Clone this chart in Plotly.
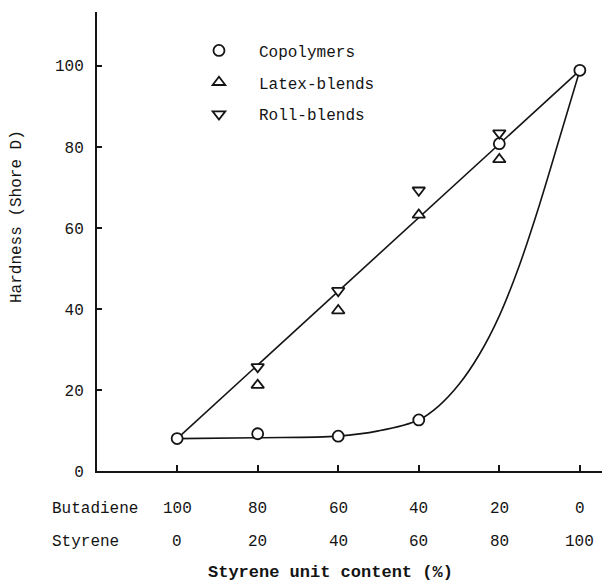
import plotly.graph_objects as go

# Data
styrene = [0, 20, 40, 60, 80, 100]
butadiene = [100, 80, 60, 40, 20, 0]

copolymers_x = [0, 20, 40, 60, 80, 100]
copolymers_y = [8, 9.2, 8.6, 12.6, 80.8, 98.9]

latex_x = [20, 40, 60, 80]
latex_y = [21.2, 39.6, 63.2, 76.9]

roll_x = [20, 40, 60, 80]
roll_y = [25.7, 44.5, 69.3, 83.4]

# straight blend line (copolymer end points)
line_x = [0, 100]
line_y = [8, 98.9]

# copolymer curve as drawn
curve_x = [0, 20, 40, 50, 60, 65, 70, 75, 80, 85, 90, 95, 100]
curve_y = [8, 8.2, 8.6, 9.9, 12.6, 16.1, 21.4, 28.7, 38.3, 50.8, 65.8, 82.3, 98.9]

y_ticks = [0, 20, 40, 60, 80, 100]

INK = "#141414"
FONT = "Liberation Mono, Courier New, monospace"

fig = go.Figure()

fig.add_trace(go.Scatter(x=line_x, y=line_y, mode="lines",
                         line=dict(color=INK, width=1.6), showlegend=False, hoverinfo="skip"))
fig.add_trace(go.Scatter(x=curve_x, y=curve_y, mode="lines", line_shape="spline",
                         line=dict(color=INK, width=1.6, smoothing=1.0), showlegend=False,
                         hoverinfo="skip"))

mk = dict(color="white", size=11, line=dict(color=INK, width=1.8))
fig.add_trace(go.Scatter(x=copolymers_x, y=copolymers_y, mode="markers", name="Copolymers",
                         marker=dict(symbol="circle", **mk), legendgroup="a"))
fig.add_trace(go.Scatter(x=latex_x, y=latex_y, mode="markers", name="Latex-blends",
                         marker=dict(symbol="triangle-up", **mk), legendgroup="b"))
fig.add_trace(go.Scatter(x=roll_x, y=roll_y, mode="markers", name="Roll-blends",
                         marker=dict(symbol="triangle-down", **mk), legendgroup="c"))

tf = dict(size=16, family=FONT, color=INK)
ROW1 = -38 / 459
ROW2 = -71 / 459
# bottom rows of composition labels
fig.add_annotation(x=-47 / 505, xref="paper", xanchor="left", y=ROW1, yref="paper",
                   yanchor="middle", text="Butadiene", showarrow=False, font=tf)
fig.add_annotation(x=-47 / 505, xref="paper", xanchor="left", y=ROW2, yref="paper",
                   yanchor="middle", text="Styrene", showarrow=False, font=tf)
for s, b in zip(styrene, butadiene):
    fig.add_annotation(x=s, xref="x", y=ROW1, yref="paper", yanchor="middle", text=str(b),
                       showarrow=False, font=tf)
    fig.add_annotation(x=s, xref="x", y=ROW2, yref="paper", yanchor="middle", text=str(s),
                       showarrow=False, font=tf)

# axis titles
fig.add_annotation(x=(330 - 97) / 505, xref="paper", y=-113 / 459, yref="paper",
                   yanchor="bottom", text="<b>Styrene unit content (%)</b>", showarrow=False,
                   font=dict(size=17, family=FONT, color=INK))
fig.add_annotation(x=-80 / 505, xref="paper", xanchor="center", y=(471 - 217) / 459,
                   yref="paper", yanchor="middle", text="Hardness (Shore D)", textangle=-90,
                   showarrow=False, font=tf)

fig.update_layout(
    width=602, height=584,
    margin=dict(l=97, r=0, t=12, b=113),
    paper_bgcolor="white", plot_bgcolor="white",
    font=dict(family=FONT, size=16, color=INK),
    xaxis=dict(range=[-19.9, 105.5], tickvals=styrene, showticklabels=False,
               ticks="inside", ticklen=6, tickwidth=1.5, tickcolor=INK,
               showline=True, linecolor=INK, linewidth=2, showgrid=False, zeroline=False),
    yaxis=dict(range=[0, 113.3], tickvals=y_ticks, ticks="inside", ticklen=5, tickwidth=1.5,
               tickcolor=INK, ticklabelstandoff=8,
               showline=True, linecolor=INK, linewidth=2, showgrid=False, zeroline=False),
    legend=dict(x=0.1623, y=0.953, xanchor="left", yanchor="top", bgcolor="rgba(0,0,0,0)",
                itemwidth=70, traceorder="grouped", tracegroupgap=8, font=tf),
)

fig.write_html("out.html")
